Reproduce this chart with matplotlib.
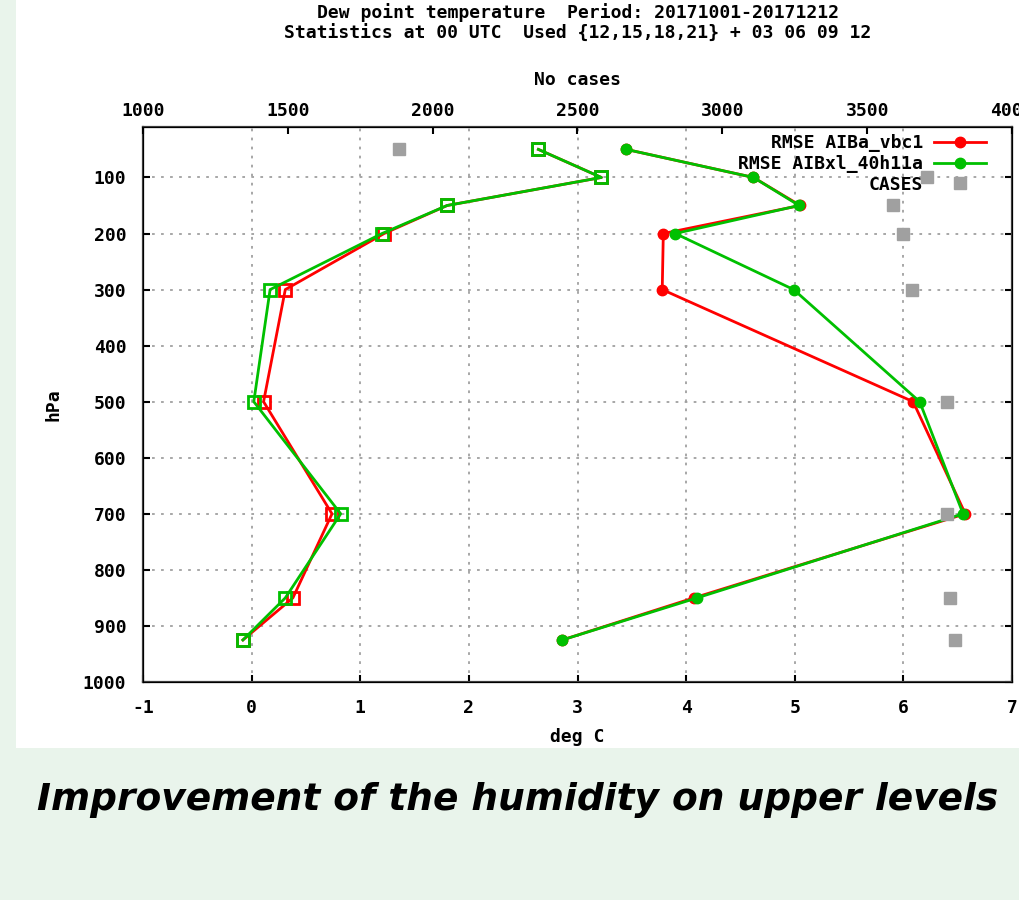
import matplotlib
matplotlib.use("Agg")
import matplotlib.pyplot as plt
from matplotlib.patches import Rectangle

plt.rcParams["axes.unicode_minus"] = False

# pressure levels (hPa)
levels = [50, 100, 150, 200, 300, 500, 700, 850, 925]

# bias (open squares)
bias_vbc1 = [2.64, 3.22, 1.80, 1.22, 0.31, 0.11, 0.74, 0.38, -0.08]
bias_40h11a = [2.64, 3.22, 1.80, 1.20, 0.17, 0.02, 0.82, 0.31, -0.08]

# rmse (filled circles)
rmse_vbc1 = [3.45, 4.62, 5.05, 3.79, 3.78, 6.09, 6.57, 4.07, 2.86]
rmse_40h11a = [3.45, 4.62, 5.04, 3.90, 4.99, 6.15, 6.55, 4.10, 2.86]

# number of cases (top axis)
cases = [1885, 3706, 3589, 3623, 3654, 3775, 3775, 3786, 3803]

xticks = [-1, 0, 1, 2, 3, 4, 5, 6, 7]
yticks = [100, 200, 300, 400, 500, 600, 700, 800, 900, 1000]
case_ticks = [1000, 1500, 2000, 2500, 3000, 3500, 4000]

RED = "#ff0000"
GREEN = "#00c000"
GRAY = "#a0a0a0"
MONO = "DejaVu Sans Mono"
FS = 13

fig = plt.figure(figsize=(10.19, 9.0), dpi=100)
fig.patch.set_facecolor("#e9f4eb")
fig.patches.append(Rectangle((16 / 1019, 1 - 748 / 900), 1, 748 / 900,
                             transform=fig.transFigure, facecolor="white",
                             edgecolor="none", zorder=-10))

ax = fig.add_axes([143 / 1019, 1 - 682 / 900, 869 / 1019, 555 / 900])
ax.set_facecolor("none")

ax.plot(bias_vbc1, levels, color=RED, lw=2, marker="s", ms=8, mew=2, mfc="none")
ax.plot(bias_40h11a, levels, color=GREEN, lw=2, marker="s", ms=8, mew=2, mfc="none")
l1, = ax.plot(rmse_vbc1, levels, color=RED, lw=2, marker="o", ms=7.5, label="RMSE AIBa_vbc1")
l2, = ax.plot(rmse_40h11a, levels, color=GREEN, lw=2, marker="o", ms=7.5, label="RMSE AIBxl_40h11a")

ax.set_xlim(-1, 7)
ax.set_ylim(1000, 10)
ax.set_xticks(xticks)
ax.set_yticks(yticks)
ax.grid(True, color=GRAY, linestyle=(0, (1.5, 3.5)), lw=1.3)
ax.set_axisbelow(True)
ax.tick_params(direction="in", length=5, width=1.5, top=True, right=True,
               labeltop=False, pad=12)
for lab in ax.get_xticklabels() + ax.get_yticklabels():
    lab.set_fontfamily(MONO)
    lab.set_fontweight("bold")
    lab.set_fontsize(FS)
for s in ax.spines.values():
    s.set_color("#404040")
    s.set_linewidth(1.6)

ax.set_xlabel("deg C", family=MONO, weight="bold", fontsize=FS, labelpad=8)
ax.set_ylabel("hPa", family=MONO, weight="bold", fontsize=FS, labelpad=15)

ax2 = ax.twiny()
l3, = ax2.plot(cases, levels, ls="none", marker="s", ms=9, color=GRAY, label="CASES")
ax2.set_xlim(1000, 4000)
ax2.set_xticks(case_ticks)
ax2.tick_params(direction="in", length=5, width=1.5, pad=5)
for lab in ax2.get_xticklabels():
    lab.set_fontfamily(MONO)
    lab.set_fontweight("bold")
    lab.set_fontsize(FS)
ax2.set_xlabel("No cases", family=MONO, weight="bold", fontsize=FS, labelpad=12)

ax2.legend(handles=[l1, l2, l3], loc="upper right", bbox_to_anchor=(0.981, 1.003),
           frameon=False, markerfirst=False, borderpad=0, handlelength=2.9,
           handletextpad=0.6, labelspacing=0.15,
           prop={"family": MONO, "weight": "bold", "size": FS})

fig.text(578 / 1019, 1 - 13 / 900, "Dew point temperature  Period: 20171001-20171212",
         ha="center", va="center", family=MONO, weight="bold", fontsize=FS)
fig.text(578 / 1019, 1 - 34 / 900, "Statistics at 00 UTC  Used {12,15,18,21} + 03 06 09 12",
         ha="center", va="center", family=MONO, weight="bold", fontsize=FS)

fig.text(518 / 1019, 1 - 800 / 900, "Improvement of the humidity on upper levels",
         ha="center", va="center", fontsize=27, weight="bold", style="italic",
         family="DejaVu Sans")

fig.savefig("out.png", dpi=100, facecolor=fig.get_facecolor())
